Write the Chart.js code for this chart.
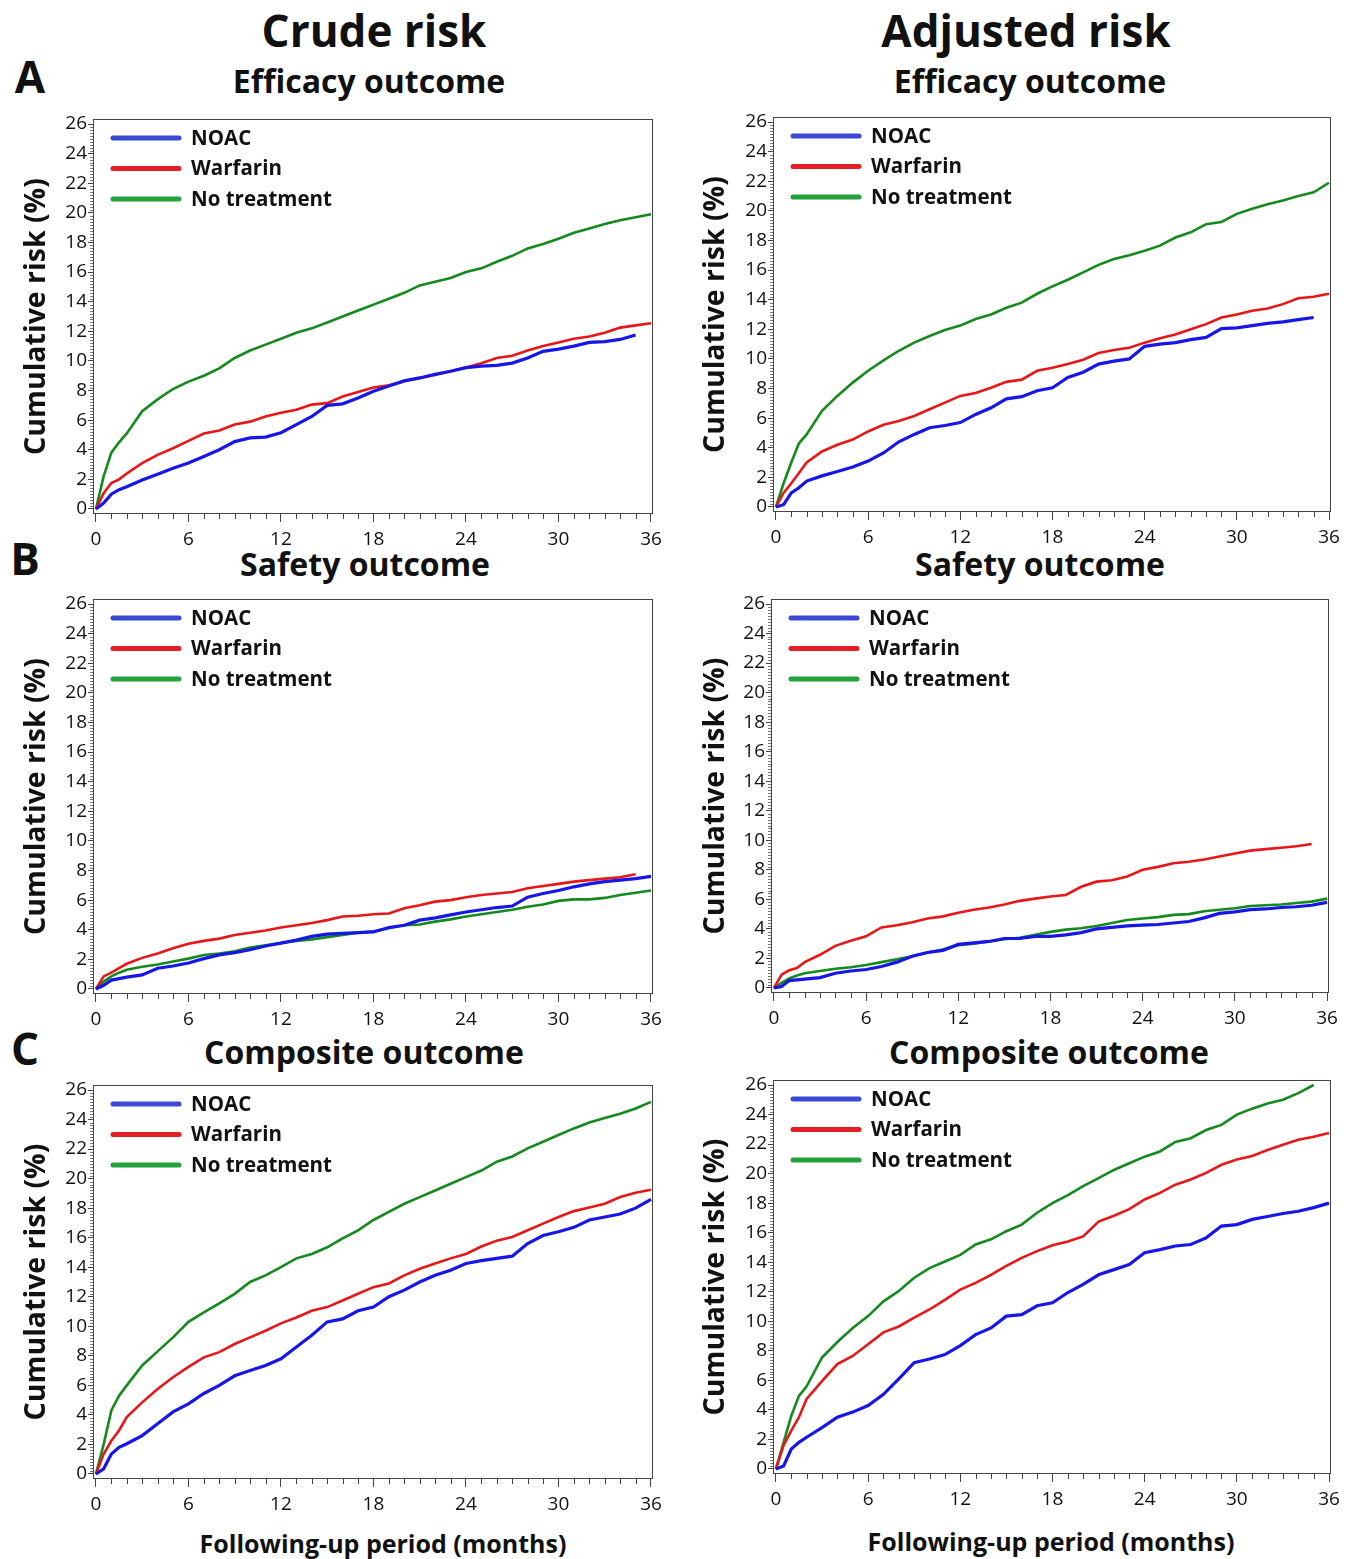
<!DOCTYPE html>
<html>
<head>
<meta charset="utf-8">
<script src="https://cdn.jsdelivr.net/npm/chart.js@4.4.1/dist/chart.umd.min.js"></script>
<style>
  body { margin: 0; background: #fff; }
  #page { position: relative; width: 1356px; height: 1559px; font-family: "Open Sans", sans-serif; color: #111; }
  .t { position: absolute; font-weight: 700; white-space: nowrap; transform: translate(-50%, -50%); line-height: 1; }
  canvas { position: absolute; }
</style>
</head>
<body>
<div id="page">
  <div class="t" style="left:374px;top:30px;font-size:44px">Crude risk</div>
  <div class="t" style="left:1026px;top:30px;font-size:44px">Adjusted risk</div>
  <div class="t" style="left:30px;top:76px;font-size:44px">A</div>
  <div class="t" style="left:25px;top:558px;font-size:44px">B</div>
  <div class="t" style="left:25px;top:1048px;font-size:44px">C</div>
  <div class="t" style="left:369px;top:81px;font-size:32px">Efficacy outcome</div>
  <div class="t" style="left:1030px;top:81px;font-size:32px">Efficacy outcome</div>
  <div class="t" style="left:365px;top:564px;font-size:32px">Safety outcome</div>
  <div class="t" style="left:1040px;top:564px;font-size:32px">Safety outcome</div>
  <div class="t" style="left:364px;top:1052px;font-size:32px">Composite outcome</div>
  <div class="t" style="left:1049px;top:1052px;font-size:32px">Composite outcome</div>
  <div class="t" style="left:383px;top:1543px;font-size:25px">Following-up period (months)</div>
  <div class="t" style="left:1051px;top:1541px;font-size:25px">Following-up period (months)</div>

  <canvas id="effCrude"></canvas>
  <canvas id="effAdj"></canvas>
  <canvas id="safCrude"></canvas>
  <canvas id="safAdj"></canvas>
  <canvas id="compCrude"></canvas>
  <canvas id="compAdj"></canvas>
</div>

<script>
// time grid (months) and axis ticks
const months = [0, 0.5, 1, 1.5, 2, 3, 4, 5, 6, 7, 8, 9, 10, 11, 12, 13, 14, 15, 16, 17, 18,
  19, 20, 21, 22, 23, 24, 25, 26, 27, 28, 29, 30, 31, 32, 33, 34, 35, 36];
const xTicks = [0, 6, 12, 18, 24, 30, 36];
const yTicks = [0, 2, 4, 6, 8, 10, 12, 14, 16, 18, 20, 22, 24, 26];
const groups = ['NOAC', 'Warfarin', 'No treatment'];

// cumulative risk (%)
// A - efficacy, crude
const effCrudeNoac = [0, 0.4, 1.0, 1.3, 1.5, 1.95, 2.35, 2.75, 3.1, 3.55, 4.0, 4.55, 4.8, 4.85, 5.15, 5.7, 6.25, 7.0, 7.1, 7.5, 7.95,
  8.3, 8.65, 8.85, 9.1, 9.3, 9.55, 9.65, 9.7, 9.85, 10.2, 10.65, 10.8, 11.0, 11.25, 11.3, 11.45, 11.75, null];
const effCrudeWarf = [0, 1.06, 1.75, 2.0, 2.4, 3.1, 3.65, 4.1, 4.6, 5.1, 5.3, 5.7, 5.9, 6.25, 6.5, 6.7, 7.05, 7.15, 7.6, 7.9, 8.2,
  8.35, 8.65, 8.85, 9.05, 9.3, 9.55, 9.85, 10.2, 10.35, 10.7, 11.0, 11.25, 11.5, 11.65, 11.9, 12.25, 12.4, 12.55];
const effCrudeNone = [0, 2.2, 3.8, 4.5, 5.1, 6.6, 7.4, 8.1, 8.6, 9.0, 9.5, 10.2, 10.7, 11.1, 11.5, 11.9, 12.2, 12.6, 13.0, 13.4, 13.8,
  14.2, 14.6, 15.1, 15.35, 15.6, 16.0, 16.25, 16.7, 17.1, 17.6, 17.9, 18.25, 18.65, 18.95, 19.25, 19.5, 19.7, 19.9];
// A - efficacy, adjusted
const effAdjNoac = [0, 0.15, 0.95, 1.3, 1.75, 2.1, 2.4, 2.7, 3.1, 3.65, 4.4, 4.9, 5.35, 5.5, 5.7, 6.25, 6.7, 7.3, 7.45, 7.85, 8.05,
  8.75, 9.1, 9.65, 9.85, 10.0, 10.85, 11.0, 11.1, 11.3, 11.45, 12.05, 12.1, 12.25, 12.4, 12.5, 12.65, 12.8, null];
const effAdjWarf = [0, 0.95, 1.6, 2.3, 3.0, 3.75, 4.2, 4.55, 5.1, 5.55, 5.8, 6.15, 6.6, 7.05, 7.5, 7.7, 8.05, 8.45, 8.6, 9.2, 9.4,
  9.65, 9.95, 10.4, 10.6, 10.75, 11.1, 11.4, 11.65, 12.0, 12.35, 12.8, 13.0, 13.25, 13.4, 13.7, 14.1, 14.2, 14.4];
const effAdjNone = [0, 1.6, 3.0, 4.3, 4.9, 6.5, 7.5, 8.4, 9.2, 9.9, 10.55, 11.1, 11.55, 11.95, 12.25, 12.7, 13.0, 13.45, 13.8, 14.4, 14.9,
  15.35, 15.85, 16.35, 16.75, 17.0, 17.3, 17.65, 18.2, 18.55, 19.1, 19.25, 19.8, 20.15, 20.45, 20.7, 21.0, 21.25, 21.9];
// B - safety, crude
const safCrudeNoac = [0, 0.25, 0.6, 0.7, 0.8, 0.95, 1.4, 1.55, 1.75, 2.05, 2.3, 2.45, 2.65, 2.9, 3.1, 3.3, 3.55, 3.7, 3.75, 3.8, 3.85,
  4.15, 4.3, 4.65, 4.8, 5.0, 5.2, 5.35, 5.5, 5.6, 6.2, 6.45, 6.65, 6.9, 7.1, 7.25, 7.35, 7.45, 7.6];
const safCrudeWarf = [0, 0.85, 1.1, 1.4, 1.7, 2.1, 2.4, 2.75, 3.05, 3.25, 3.4, 3.65, 3.8, 3.95, 4.15, 4.3, 4.45, 4.65, 4.9, 4.95, 5.05,
  5.1, 5.45, 5.65, 5.9, 6.0, 6.2, 6.35, 6.45, 6.55, 6.8, 6.95, 7.1, 7.25, 7.35, 7.45, 7.55, 7.75, null];
const safCrudeNone = [0, 0.5, 0.85, 1.1, 1.3, 1.5, 1.65, 1.85, 2.05, 2.3, 2.4, 2.55, 2.8, 2.95, 3.1, 3.25, 3.35, 3.5, 3.65, 3.8, 3.9,
  4.1, 4.3, 4.35, 4.55, 4.7, 4.9, 5.05, 5.2, 5.35, 5.55, 5.7, 5.95, 6.05, 6.05, 6.15, 6.35, 6.5, 6.65];
// B - safety, adjusted
const safAdjNoac = [0, 0.1, 0.5, 0.55, 0.6, 0.7, 1.0, 1.15, 1.25, 1.45, 1.75, 2.15, 2.4, 2.55, 2.95, 3.05, 3.15, 3.35, 3.35, 3.5, 3.5,
  3.6, 3.75, 4.0, 4.1, 4.2, 4.25, 4.3, 4.4, 4.5, 4.75, 5.05, 5.15, 5.3, 5.35, 5.45, 5.5, 5.6, 5.8];
const safAdjWarf = [0, 0.9, 1.2, 1.35, 1.75, 2.25, 2.85, 3.2, 3.5, 4.1, 4.25, 4.45, 4.7, 4.85, 5.1, 5.3, 5.45, 5.65, 5.9, 6.05, 6.2,
  6.3, 6.85, 7.2, 7.3, 7.55, 8.0, 8.2, 8.45, 8.55, 8.7, 8.9, 9.1, 9.3, 9.4, 9.5, 9.6, 9.75, null];
const safAdjNone = [0, 0.35, 0.65, 0.85, 1.0, 1.15, 1.3, 1.4, 1.55, 1.75, 1.95, 2.15, 2.4, 2.6, 2.9, 3.0, 3.15, 3.3, 3.4, 3.6, 3.8,
  3.95, 4.05, 4.2, 4.4, 4.6, 4.7, 4.8, 4.95, 5.0, 5.2, 5.3, 5.4, 5.55, 5.6, 5.65, 5.75, 5.85, 6.05];
// C - composite, crude
const compCrudeNoac = [0, 0.35, 1.35, 1.8, 2.05, 2.6, 3.4, 4.2, 4.75, 5.45, 6.0, 6.65, 7.0, 7.35, 7.8, 8.6, 9.4, 10.3, 10.5, 11.05, 11.3,
  12.0, 12.45, 13.0, 13.45, 13.8, 14.25, 14.45, 14.6, 14.75, 15.6, 16.15, 16.4, 16.7, 17.2, 17.4, 17.6, 18.0, 18.6];
const compCrudeWarf = [0, 1.35, 2.25, 2.95, 3.85, 4.85, 5.75, 6.55, 7.25, 7.9, 8.25, 8.8, 9.25, 9.7, 10.2, 10.6, 11.05, 11.3, 11.75, 12.2, 12.65,
  12.9, 13.45, 13.9, 14.25, 14.6, 14.9, 15.4, 15.8, 16.05, 16.5, 16.95, 17.4, 17.8, 18.05, 18.3, 18.75, 19.05, 19.25];
const compCrudeNone = [0, 2.0, 4.3, 5.3, 6.0, 7.35, 8.3, 9.25, 10.3, 10.95, 11.55, 12.2, 13.0, 13.45, 14.0, 14.6, 14.9, 15.35, 15.95, 16.5, 17.2,
  17.75, 18.3, 18.75, 19.2, 19.65, 20.1, 20.55, 21.15, 21.5, 22.05, 22.5, 22.95, 23.4, 23.8, 24.1, 24.4, 24.75, 25.2];
// C - composite, adjusted
const compAdjNoac = [0, 0.2, 1.35, 1.8, 2.15, 2.8, 3.5, 3.85, 4.3, 5.05, 6.1, 7.2, 7.45, 7.75, 8.35, 9.1, 9.55, 10.35, 10.45, 11.05, 11.25,
  11.95, 12.5, 13.15, 13.5, 13.85, 14.65, 14.85, 15.1, 15.2, 15.65, 16.45, 16.55, 16.9, 17.1, 17.3, 17.45, 17.7, 18.0];
const compAdjWarf = [0, 1.6, 2.6, 3.5, 4.75, 5.95, 7.1, 7.65, 8.45, 9.25, 9.65, 10.25, 10.8, 11.45, 12.15, 12.6, 13.15, 13.75, 14.3, 14.75, 15.15,
  15.4, 15.75, 16.75, 17.15, 17.6, 18.25, 18.7, 19.25, 19.6, 20.05, 20.6, 20.95, 21.2, 21.6, 21.95, 22.3, 22.5, 22.75];
const compAdjNone = [0, 1.8, 3.6, 4.95, 5.6, 7.55, 8.6, 9.55, 10.35, 11.35, 12.05, 12.95, 13.6, 14.05, 14.5, 15.2, 15.55, 16.1, 16.55, 17.35, 18.0,
  18.55, 19.15, 19.7, 20.25, 20.7, 21.15, 21.5, 22.15, 22.4, 22.95, 23.3, 24.0, 24.4, 24.75, 25.0, 25.45, 26.0, null];

const lineColors = ['#1616e8', '#e81616', '#158a1c'];
const legendColors = ['#3a48d6', '#e41e26', '#23a13a'];
const FONT = '"Open Sans", sans-serif';

// panel placement: canvas origin and plot box
const panels = [
  { id: 'effCrude',  left: 0,   top: 99,   box: [93, 119, 653, 514],   series: [effCrudeNoac, effCrudeWarf, effCrudeNone] },
  { id: 'effAdj',    left: 678, top: 97,   box: [773, 117, 1331, 512], series: [effAdjNoac, effAdjWarf, effAdjNone] },
  { id: 'safCrude',  left: 0,   top: 579,  box: [93, 599, 653, 994],   series: [safCrudeNoac, safCrudeWarf, safCrudeNone] },
  { id: 'safAdj',    left: 678, top: 579,  box: [771, 599, 1329, 993], series: [safAdjNoac, safAdjWarf, safAdjNone] },
  { id: 'compCrude', left: 0,   top: 1065, box: [93, 1085, 653, 1479], series: [compCrudeNoac, compCrudeWarf, compCrudeNone] },
  { id: 'compAdj',   left: 678, top: 1060, box: [773, 1080, 1331, 1474], series: [compAdjNoac, compAdjWarf, compAdjNone] }
];

// box frame, minor ticks and in-plot legend
const framePlugin = {
  id: 'frame',
  afterDraw(chart) {
    const { ctx, chartArea: a, scales: { x, y } } = chart;
    ctx.save();
    ctx.strokeStyle = '#444';
    ctx.lineWidth = 1;
    ctx.strokeRect(a.left + 0.5, a.top + 0.5, a.width - 1, a.height - 1);

    ctx.beginPath();
    for (let m = 1; m < 36; m++) {
      if (m % 6 === 0) continue;
      const px = Math.round(x.getPixelForValue(m)) + 0.5;
      ctx.moveTo(px, a.bottom);
      ctx.lineTo(px, a.bottom + 5);
    }
    ctx.stroke();

    ctx.strokeStyle = '#777';
    ctx.beginPath();
    for (let k = 1; k < 130; k++) {
      if (k % 10 === 0) continue;
      const py = Math.round(y.getPixelForValue(k / 5)) + 0.5;
      ctx.moveTo(a.left - 3, py);
      ctx.lineTo(a.left, py);
    }
    ctx.stroke();

    chart.data.datasets.forEach((ds, i) => {
      const ly = a.top + 19 + i * 30.5;
      ctx.strokeStyle = legendColors[i];
      ctx.lineWidth = 5;
      ctx.lineCap = 'round';
      ctx.beginPath();
      ctx.moveTo(a.left + 20, ly);
      ctx.lineTo(a.left + 86, ly);
      ctx.stroke();
      ctx.fillStyle = '#111';
      ctx.font = 'bold 20.5px ' + FONT;
      ctx.textBaseline = 'middle';
      ctx.fillText(ds.label, a.left + 98, ly + 1);
    });
    ctx.restore();
  }
};

panels.forEach(p => {
  const cv = document.getElementById(p.id);
  const width = p.left === 0 ? 676 : 678;
  const height = (p.box[3] - p.box[1]) + 20 + 44;
  cv.width = width; cv.height = height;
  cv.style.left = p.left + 'px';
  cv.style.top = p.top + 'px';
  cv.style.width = width + 'px';
  cv.style.height = height + 'px';

  new Chart(cv.getContext('2d'), {
    type: 'line',
    data: {
      datasets: p.series.map((vals, i) => ({
        label: groups[i],
        data: months.map((m, j) => ({ x: m, y: vals[j] })).filter(pt => pt.y !== null),
        borderColor: lineColors[i],
        borderWidth: i === 0 ? 3.2 : 2.6,
        pointRadius: 0,
        tension: 0,
        fill: false
      }))
    },
    options: {
      responsive: false,
      animation: false,
      events: [],
      layout: { padding: { top: p.box[1] - p.top, right: p.left + width - p.box[2], left: 0, bottom: 0 } },
      plugins: { legend: { display: false }, tooltip: { enabled: false } },
      scales: {
        x: {
          type: 'linear',
          min: -0.19,
          max: 36.13,
          afterBuildTicks: s => { s.ticks = xTicks.map(v => ({ value: v })); },
          afterFit: s => { s.height = 44; },
          border: { display: false },
          grid: { drawOnChartArea: false, drawTicks: true, tickLength: 8, color: '#444' },
          ticks: { autoSkip: false, maxRotation: 0, padding: 6, color: '#111', font: { family: FONT, size: 19 } }
        },
        y: {
          min: -0.34,
          max: 26.34,
          afterBuildTicks: s => { s.ticks = yTicks.map(v => ({ value: v })); },
          afterFit: s => { s.width = p.box[0] - p.left; },
          border: { display: false },
          grid: { drawOnChartArea: false, drawTicks: true, tickLength: 5, color: '#444' },
          ticks: { autoSkip: false, padding: 1, color: '#111', font: { family: FONT, size: 19 } },
          title: {
            display: true,
            text: 'Cumulative risk (%)',
            color: '#111',
            font: { family: FONT, size: 28.5, weight: 'bold' },
            padding: { top: p.left === 0 ? 20 : 21, bottom: 0 }
          }
        }
      }
    },
    plugins: [framePlugin]
  });
});
</script>
</body>
</html>
